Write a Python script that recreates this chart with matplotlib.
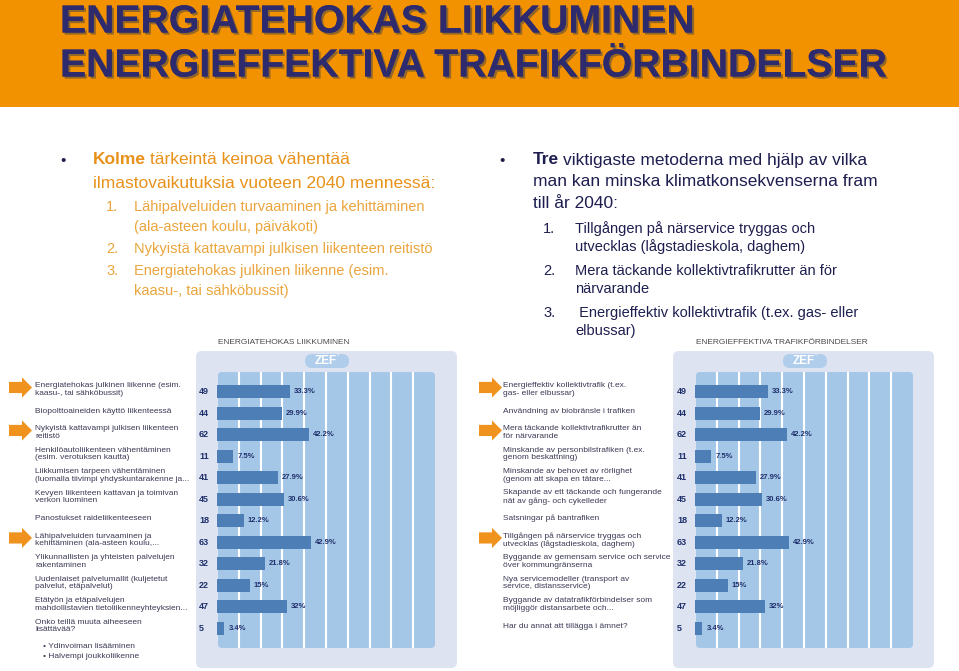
import matplotlib.pyplot as plt
import matplotlib.patheffects as pe
from matplotlib.patches import FancyBboxPatch, Polygon
from matplotlib.transforms import blended_transform_factory

W, H = 959, 671

counts = [49, 44, 62, 11, 41, 45, 18, 63, 32, 22, 47, 5]
shares = [33.3, 29.9, 42.2, 7.5, 27.9, 30.6, 12.2, 42.9, 21.8, 15, 32, 3.4]
highlight = [0, 2, 7]

labels_fi = [
    "Energiatehokas julkinen liikenne (esim.\nkaasu-, tai sähköbussit)",
    "Biopolttoaineiden käyttö liikenteessä",
    "Nykyistä kattavampi julkisen liikenteen\nreitistö",
    "Henkilöautoliikenteen vähentäminen\n(esim. verotuksen kautta)",
    "Liikkumisen tarpeen vähentäminen\n(luomalla tiivimpi yhdyskuntarakenne ja...",
    "Kevyen liikenteen kattavan ja toimivan\nverkon luominen",
    "Panostukset raideliikenteeseen",
    "Lähipalveluiden turvaaminen ja\nkehittäminen (ala-asteen koulu,...",
    "Ylikunnallisten ja yhteisten palvelujen\nrakentaminen",
    "Uudenlaiset palvelumallit (kuljetetut\npalvelut, etäpalvelut)",
    "Etätyön ja etäpalvelujen\nmahdollistavien tietoliikenneyhteyksien...",
    "Onko teillä muuta aiheeseen\nlisättävää?",
]
labels_sv = [
    "Energieffektiv kollektivtrafik (t.ex.\ngas- eller elbussar)",
    "Användning av biobränsle i trafiken",
    "Mera täckande kollektivtrafikrutter än\nför närvarande",
    "Minskande av personbilstrafiken (t.ex.\ngenom beskattning)",
    "Minskande av behovet av rörlighet\n(genom att skapa en tätare...",
    "Skapande av ett täckande och fungerande\nnät av gång- och cykelleder",
    "Satsningar på bantrafiken",
    "Tillgången på närservice tryggas och\nutvecklas (lågstadieskola, daghem)",
    "Byggande av gemensam service och service\növer kommungränserna",
    "Nya servicemodeller (transport av\nservice, distansservice)",
    "Byggande av datatrafikförbindelser som\nmöjliggör distansarbete och...",
    "Har du annat att tillägga i ämnet?",
]
extra_fi = ["• Ydinvoiman lisääminen", "• Halvempi joukkoliikenne"]

orange = '#F39200'
navy = '#2D2A6E'
panel_c = '#DDE3F1'
inner_c = '#A5C7E7'
bar_c = '#4D7FB6'
pill_c = '#B0CEEC'
num_c = '#1F2F6B'
lab_c = '#3A3A55'
txt_or = '#E8921B'
txt_or2 = '#EBA53C'
txt_nv = '#1E1E50'

plt.rcParams['font.family'] = ['Liberation Sans', 'DejaVu Sans']

fig = plt.figure(figsize=(W / 100, H / 100), dpi=100)
bg = fig.add_axes([0, 0, 1, 1])
bg.set_xlim(0, W)
bg.set_ylim(H, 0)
bg.axis('off')

# header band
bg.add_patch(plt.Rectangle((0, 0), W, 107, fc=orange, ec='none'))
shadow = [pe.withSimplePatchShadow(offset=(1.5, -1.5), shadow_rgbFace='#444444', alpha=0.55), pe.Normal()]
bg.text(60, 32.5, "ENERGIATEHOKAS LIIKKUMINEN", fontsize=28.2, fontweight='bold',
        color=navy, va='baseline', ha='left', path_effects=shadow)
bg.text(60, 76.5, "ENERGIEFFEKTIVA TRAFIKFÖRBINDELSER", fontsize=28.2, fontweight='bold',
        color=navy, va='baseline', ha='left', path_effects=shadow)

# left text block (Finnish)
bg.text(60, 161, "•", fontsize=11, color=txt_nv, va='center')
bg.text(93, 160, "Kolme", fontsize=12.5, fontweight='bold', color=txt_or, va='center')
bg.text(150, 160, "tärkeintä keinoa vähentää", fontsize=12.5, color=txt_or, va='center')
bg.text(93, 183, "ilmastovaikutuksia vuoteen 2040 mennessä:", fontsize=12.5, color=txt_or, va='center')
fi_items = [("1.", 207, "Lähipalveluiden turvaaminen ja kehittäminen"),
            ("", 227, "(ala-asteen koulu, päiväkoti)"),
            ("2.", 249, "Nykyistä kattavampi julkisen liikenteen reitistö"),
            ("3.", 271, "Energiatehokas julkinen liikenne (esim."),
            ("", 291, "kaasu-, tai sähköbussit)")]
for num, y, t in fi_items:
    if num:
        bg.text(106, y, num, fontsize=10.5, color=txt_or2, va='center')
    bg.text(134, y, t, fontsize=10.5, color=txt_or2, va='center')

# right text block (Swedish)
bg.text(499, 161, "•", fontsize=11, color=txt_nv, va='center')
bg.text(533, 160, "Tre", fontsize=12.5, fontweight='bold', color=txt_nv, va='center')
bg.text(563, 160, "viktigaste metoderna med hjälp av vilka", fontsize=12.5, color=txt_nv, va='center')
bg.text(533, 182, "man kan minska klimatkonsekvenserna fram", fontsize=12.5, color=txt_nv, va='center')
bg.text(533, 204, "till år 2040:", fontsize=12.5, color=txt_nv, va='center')
sv_items = [("1.", 229, "Tillgången på närservice tryggas och"),
            ("", 247, "utvecklas (lågstadieskola, daghem)"),
            ("2.", 271, "Mera täckande kollektivtrafikrutter än för"),
            ("", 289, "närvarande"),
            ("3.", 313, " Energieffektiv kollektivtrafik (t.ex. gas- eller"),
            ("", 331, "elbussar)")]
for num, y, t in sv_items:
    if num:
        bg.text(543, y, num, fontsize=10.5, color=txt_nv, va='center')
    bg.text(575, y, t, fontsize=10.5, color=txt_nv, va='center')


def draw_chart(px0, inner0, lab_x, arrow_x, num_x, title, labels, pill_cx):
    px1 = px0 + 261
    inner1 = inner0 + 218
    top, bottom = 372, 648
    bg.add_patch(FancyBboxPatch((px0, 351), px1 - px0, 317,
                                boxstyle='round,pad=0,rounding_size=6', fc=panel_c, ec='none'))
    bg.add_patch(FancyBboxPatch((inner0 + 1, top), inner1 - inner0 - 1, bottom - top,
                                boxstyle='round,pad=0,rounding_size=4', fc=inner_c, ec='none'))
    bg.add_patch(FancyBboxPatch((pill_cx - 22, 354), 44, 14,
                                boxstyle='round,pad=0,rounding_size=7', fc=pill_c, ec='none'))
    bg.text(pill_cx - 1, 361.5, "ZEF", fontsize=8.5, fontweight='bold', color='white',
            ha='center', va='center')
    bg.text(pill_cx + 11, 358, "°", fontsize=5, color='white', ha='center', va='center')
    bg.text(inner0 + 1, 342, title, fontsize=6, color='#4a4a4a', ha='left', va='center')

    ax = fig.add_axes([inner0 / W, 1 - bottom / H, (inner1 - inner0) / W, (bottom - top) / H])
    ax.patch.set_alpha(0)
    rows = list(range(len(counts)))
    ax.set_xlim(0, 100)
    ax.set_ylim(11.92, -0.92)
    for g in range(10, 100, 10):
        ax.axvline(g, color='white', lw=1.5, zorder=1)
    ax.barh(rows, shares, height=0.6, color=bar_c, zorder=2)
    for r, v in zip(rows, shares):
        ax.annotate(f"{v:g}%", (v, r), xytext=(4, 0), textcoords='offset pixels',
                    fontsize=5.5, fontweight='bold', color=num_c, va='center', ha='left')
    ax.axis('off')

    tr = blended_transform_factory(bg.transData, ax.transData)
    for r, c, lab in zip(rows, counts, labels):
        bg.text(num_x, r, str(c), transform=tr, fontsize=6.5, fontweight='bold',
                color=num_c, va='center', ha='left')
        bg.text(lab_x, r - 0.1, lab, transform=tr, fontsize=6, color=lab_c,
                va='center', ha='left', linespacing=1.1)
    for r in highlight:
        yc = r - 0.2
        hs, hh = 0.26, 0.47
        pts = [(arrow_x, yc - hs), (arrow_x + 13, yc - hs), (arrow_x + 13, yc - hh),
               (arrow_x + 23, yc), (arrow_x + 13, yc + hh), (arrow_x + 13, yc + hs),
               (arrow_x, yc + hs)]
        bg.add_patch(Polygon(pts, closed=True, fc='#F0921E', ec='none', transform=tr))
    return ax, tr


axl, trl = draw_chart(196, 217, 35, 9, 199, "ENERGIATEHOKAS LIIKKUMINEN", labels_fi, 327)
axr, trr = draw_chart(673, 695, 503, 479, 677, "ENERGIEFFEKTIVA TRAFIKFÖRBINDELSER", labels_sv, 805)

for k, t in enumerate(extra_fi):
    bg.text(43, 11.83 + k * 0.47, t, transform=trl, fontsize=6, color=lab_c, va='center', ha='left')

fig.savefig("out.png", dpi=100)
